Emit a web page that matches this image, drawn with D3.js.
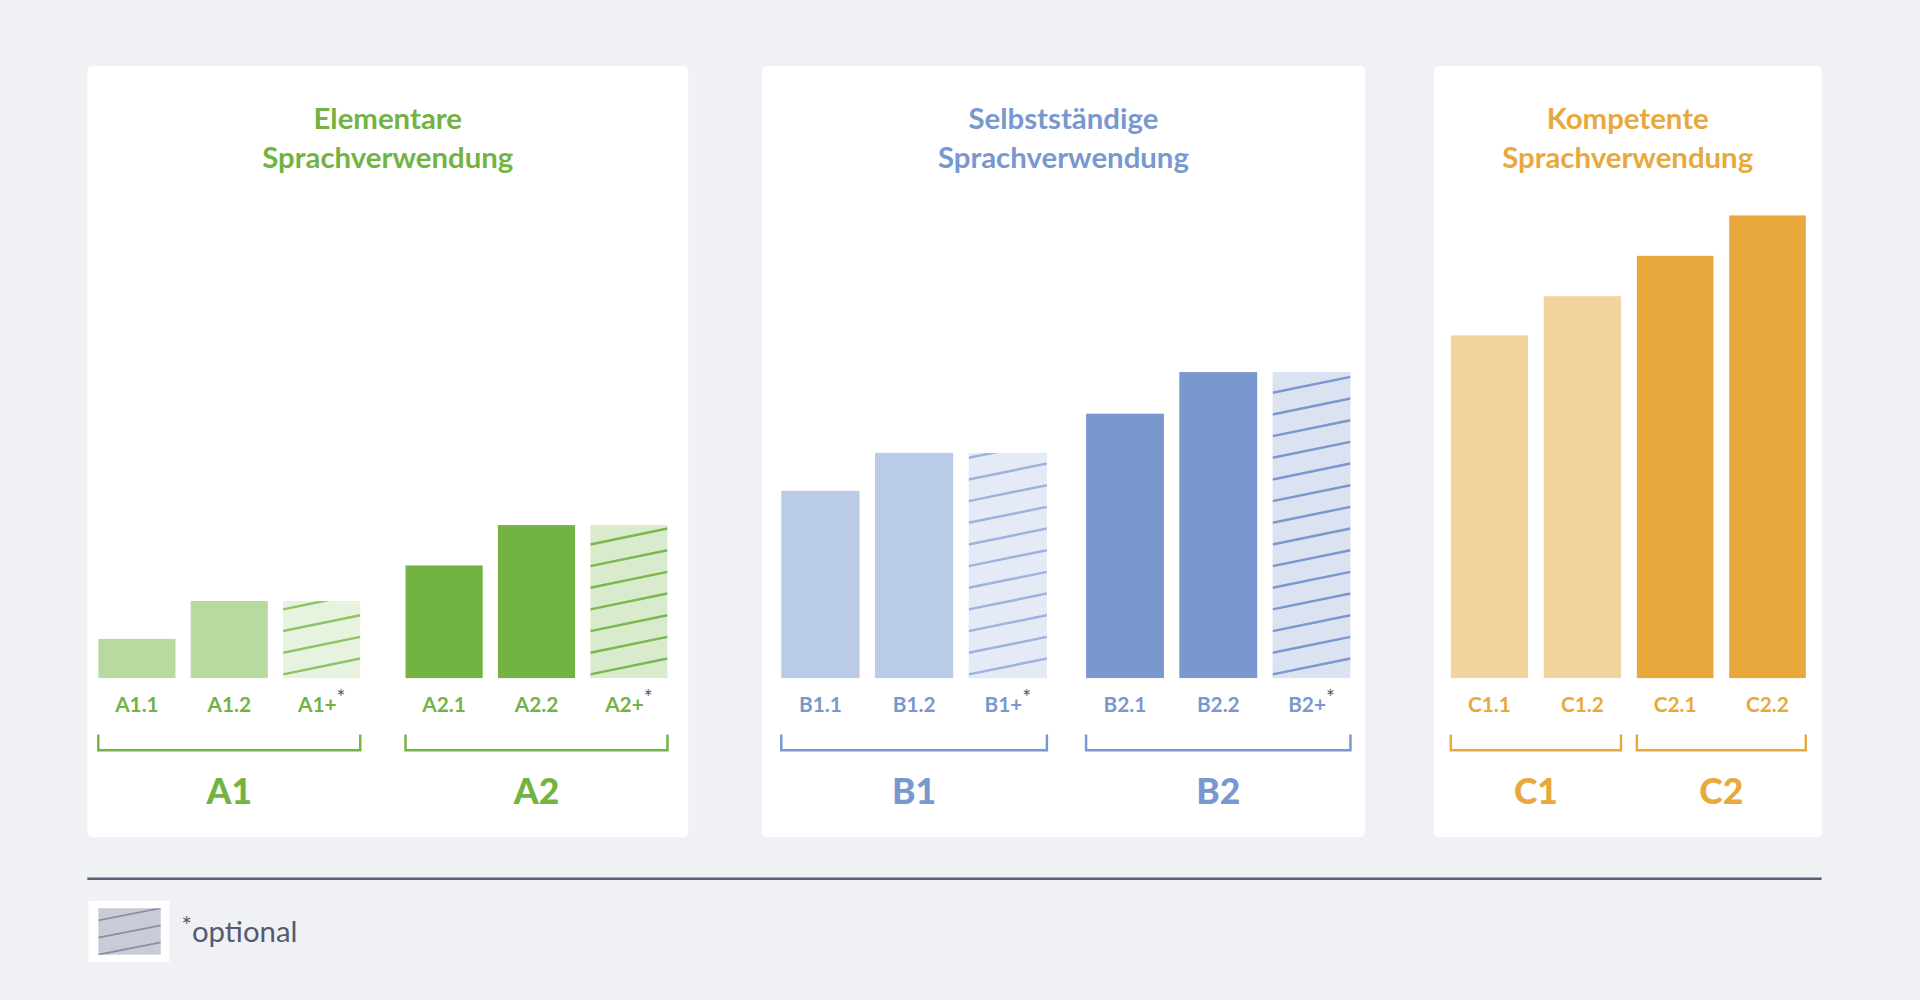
<!DOCTYPE html>
<html><head><meta charset="utf-8">
<script src="https://cdn.jsdelivr.net/npm/d3@7"></script>
<style>html,body{margin:0;padding:0;background:#eff1f5;}svg{display:block;}</style>
</head><body>
<script>
// ---- data ----
const groupsA = ["A1","A2"], groupsB = ["B1","B2"], groupsC = ["C1","C2"];
const catsA1 = ["A1.1","A1.2","A1+"], valsA1 = [32,63,63];
const catsA2 = ["A2.1","A2.2","A2+"], valsA2 = [92,125,125];
const catsB1 = ["B1.1","B1.2","B1+"], valsB1 = [153,184,184];
const catsB2 = ["B2.1","B2.2","B2+"], valsB2 = [216,250,250];
const catsC1 = ["C1.1","C1.2"], valsC1 = [280,312];
const catsC2 = ["C2.1","C2.2"], valsC2 = [345,378];
const optionalCats = ["A1+","A2+","B1+","B2+"];
const titles = [["Elementare","Sprachverwendung"],["Selbstständige","Sprachverwendung"],["Kompetente","Sprachverwendung"]];

const W=1568,H=817,base=554;
const svg=d3.select("body").append("svg").attr("width",1920).attr("height",1000).attr("viewBox",`0 0 ${W} ${H}`);
svg.append("rect").attr("width",W).attr("height",H).attr("fill","#eff1f5");
const y=d3.scaleLinear().domain([0,378]).range([base,base-378]);
const font="Lato, 'Open Sans', sans-serif";

const panels=[
 {x0:71,x1:562,title:titles[0],main:"#72b344",
  subs:[{g:groupsA[0],cats:catsA1,vals:valsA1,r:[80,294],fill:"#b8daa0",hfill:"#e8f3df",hline:"#8cc466"},
        {g:groupsA[1],cats:catsA2,vals:valsA2,r:[331,545],fill:"#72b344",hfill:"#d9ebcc",hline:"#7ab84f"}]},
 {x0:622,x1:1115,title:titles[1],main:"#7898cf",
  subs:[{g:groupsB[0],cats:catsB1,vals:valsB1,r:[638,855],fill:"#b9cbe7",hfill:"#e4eaf6",hline:"#9db3df"},
        {g:groupsB[1],cats:catsB2,vals:valsB2,r:[887,1103],fill:"#7898cf",hfill:"#dbe3f3",hline:"#7898cf"}]},
 {x0:1171,x1:1488,title:titles[2],main:"#e8a83c",
  subs:[{g:groupsC[0],cats:catsC1,vals:valsC1,r:[1185,1324],fill:"#f3d39d"},
        {g:groupsC[1],cats:catsC2,vals:valsC2,r:[1337,1475],fill:"#e8a83c"}]}
];
const defs=svg.append("defs");
let cid=0;
panels.forEach(p=>{
  svg.append("rect").attr("x",p.x0).attr("y",54).attr("width",p.x1-p.x0).attr("height",630).attr("rx",4).attr("fill","#fff");
  const cx=(p.x0+p.x1)/2;
  p.title.forEach((t,i)=>svg.append("text").attr("x",cx).attr("y",105+i*32).attr("text-anchor","middle")
    .attr("font-family",font).attr("font-weight",700).attr("font-size",24).attr("fill",p.main).text(t));
  p.subs.forEach(s=>{
    const x=d3.scaleBand().domain(s.cats).range(s.r).paddingInner(s.cats.length==3?0.165:0.17).paddingOuter(0);
    s.cats.forEach((c,i)=>{
      const opt=optionalCats.includes(c);
      const bx=x(c),bw=x.bandwidth(),by=y(s.vals[i]),bh=base-by;
      svg.append("rect").attr("x",bx).attr("y",by).attr("width",bw).attr("height",bh).attr("fill",opt?s.hfill:s.fill);
      if(opt){
        const id="clip"+(cid++);
        defs.append("clipPath").attr("id",id).append("rect").attr("x",bx).attr("y",by).attr("width",bw).attr("height",bh);
        const g=svg.append("g").attr("clip-path",`url(#${id})`);
        for(let ly=base-3;ly>by-20;ly-=17.7){
          g.append("line").attr("x1",bx).attr("y1",ly).attr("x2",bx+bw).attr("y2",ly-13).attr("stroke",s.hline).attr("stroke-width",2);
        }
      }
      const t=svg.append("text").attr("x",bx+bw/2).attr("y",582).attr("text-anchor","middle")
        .attr("font-family",font).attr("font-weight",700).attr("font-size",17).attr("fill",p.main);
      if(opt){t.text(c);t.append("tspan").attr("fill","#555a70").attr("font-weight",400).attr("dy",-6).text("*");}
      else t.text(c);
    });
    svg.append("path").attr("d",`M${s.r[0]},600V613H${s.r[1]}V600`).attr("fill","none").attr("stroke",p.main).attr("stroke-width",2);
    svg.append("text").attr("x",(s.r[0]+s.r[1])/2).attr("y",657).attr("text-anchor","middle")
      .attr("font-family",font).attr("font-weight",900).attr("font-size",29).attr("fill",p.main).text(s.g);
  });
});
svg.append("line").attr("x1",71).attr("x2",1488).attr("y1",718).attr("y2",718).attr("stroke","#5a5f78").attr("stroke-width",2);
svg.append("rect").attr("x",72).attr("y",736).attr("width",66).attr("height",50).attr("fill","#fff");
svg.append("rect").attr("x",80).attr("y",742).attr("width",51).attr("height",38).attr("fill","#c9ccd6");
defs.append("clipPath").attr("id","lg").append("rect").attr("x",80).attr("y",742).attr("width",51).attr("height",38);
const lg=svg.append("g").attr("clip-path","url(#lg)");
[752,766,780].forEach(ly=>lg.append("line").attr("x1",80).attr("x2",131).attr("y1",ly).attr("y2",ly-10).attr("stroke","#8a8fa3").attr("stroke-width",1.5));
const lt=svg.append("text").attr("x",148).attr("y",770).attr("font-family",font).attr("font-size",24).attr("fill","#555a70");
lt.append("tspan").attr("dy",-6).attr("font-size",20).text("*");
lt.append("tspan").attr("dy",6).text("optional");
</script>
</body></html>
